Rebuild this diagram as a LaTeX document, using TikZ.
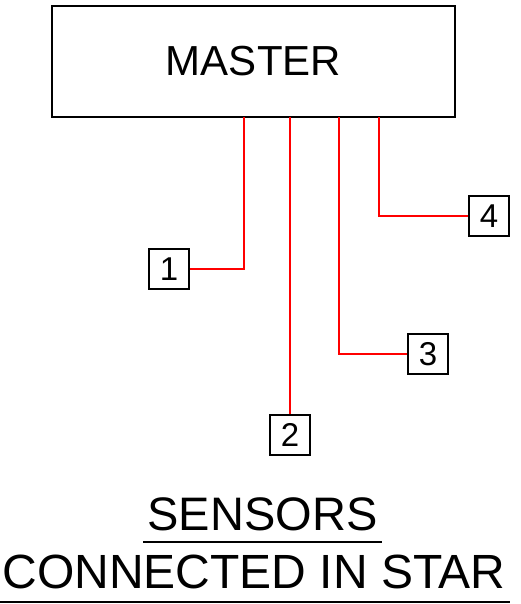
\documentclass[tikz,border=0pt]{standalone}
\usepackage{fontspec}
\setmainfont{Liberation Sans}
\usetikzlibrary{positioning}

\begin{document}
\begin{tikzpicture}[
    x=1pt, y=-1pt,
    master/.style={rectangle, draw, line width=1.8pt, minimum width=403pt, minimum height=111pt, inner sep=0pt, font=\fontsize{42}{42}\selectfont},
    sensor/.style={rectangle, draw, line width=1.7pt, minimum size=40pt, inner sep=0pt, font=\fontsize{33}{33}\selectfont},
    wire/.style={red, line width=1.8pt},
    title/.style={anchor=base, inner sep=0pt, font=\fontsize{47}{47}\selectfont},
    uline/.style={line width=1.4pt},
]
\useasboundingbox (0,0) rectangle (520,604);

\node[master] (master) at (253.5,61.5) {MASTER};

\node[sensor] (s1) at (169,269) {1};
\node[sensor] (s2) at (290,435) {2};
\node[sensor] (s3) at (428,354) {3};
\node[sensor] (s4) at (489,216) {4};

% taps on the bottom of the master
\coordinate (t1) at (244,117);
\coordinate (t2) at (290,117);
\coordinate (t3) at (339,117);
\coordinate (t4) at (379,117);

\draw[wire] (t1) |- (s1);
\draw[wire] (t2) -- (s2);
\draw[wire] (t3) |- (s3);
\draw[wire] (t4) |- (s4);

\node[title] (head1) at (262.5,530) {SENSORS};
\node[title, font=\fontsize{48}{48}\selectfont] (head2) at (254,588) {CONNECTED IN STAR};
\draw[uline] (143,542) -- (382,542);
\draw[uline] (0,602) -- (510,602);

\end{tikzpicture}
\end{document}
